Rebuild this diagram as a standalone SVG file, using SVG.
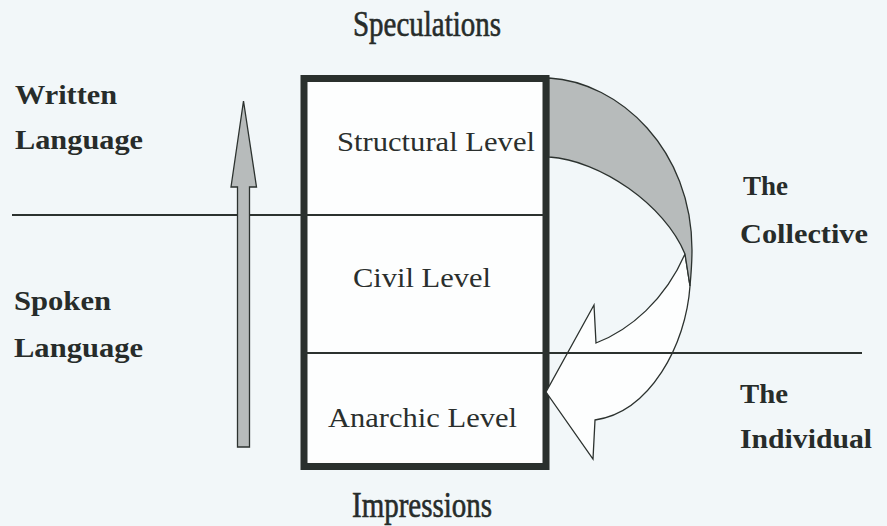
<svg xmlns="http://www.w3.org/2000/svg" width="887" height="526" viewBox="0 0 887 526">
<style>
.lbl{font-family:"Liberation Serif","Times New Roman",serif;font-weight:bold;font-size:28px;fill:#272c2a}
.lvl{font-family:"Liberation Serif","Times New Roman",serif;font-size:28px;fill:#2a2f2d}
.ttl{font-family:"Liberation Serif","Times New Roman",serif;font-size:35px;fill:#272c2a;stroke:#272c2a;stroke-width:0.6}
.rule{stroke:#2c322f;stroke-width:2;fill:none}
.arr{fill:#b7bbbb;stroke:#2c322f;stroke-width:1.3;stroke-linejoin:miter}
.warr{fill:#fdfefe;stroke:#2c322f;stroke-width:1.3}
</style>
<rect x="0" y="0" width="887" height="526" fill="#f2f7f9"/>
<g id="box">
<rect x="304" y="78.5" width="242" height="388" fill="#fdfefe" stroke="#2a302d" stroke-width="7"/>
</g>
<g id="connectors">
<line class="rule" x1="12" y1="215" x2="546" y2="215"/>
<polygon class="arr" points="237.5,447 249.5,447 249.5,187 256.5,187 243.5,101 231,187 237.5,187"/>
<path class="warr" d="M685,254 C665,300 630,330 596,343 L594,305 L546,392 L593,459 L595,420 C650,412 686,345 690,286 Z"/>
<path class="arr" d="M549,78 C620,82 692,150 692,250 C692,262 691,275 690,286 L685,254 C665,205 600,160 549,157 Z"/>
<line class="rule" x1="304" y1="353" x2="862" y2="353"/>
</g>
<g id="speculations"><text class="ttl" x="353" y="36" textLength="148" lengthAdjust="spacingAndGlyphs">Speculations</text></g>
<g id="impressions"><text class="ttl" x="352" y="517" textLength="140" lengthAdjust="spacingAndGlyphs">Impressions</text></g>
<g id="structural-level"><text class="lvl" x="337" y="151" textLength="198" lengthAdjust="spacingAndGlyphs">Structural Level</text></g>
<g id="civil-level"><text class="lvl" x="353" y="287" textLength="138" lengthAdjust="spacingAndGlyphs">Civil Level</text></g>
<g id="anarchic-level"><text class="lvl" x="328" y="427" textLength="189" lengthAdjust="spacingAndGlyphs">Anarchic Level</text></g>
<g id="written-language">
<text class="lbl" x="15" y="104" textLength="102" lengthAdjust="spacingAndGlyphs">Written</text>
<text class="lbl" x="15" y="149" textLength="128" lengthAdjust="spacingAndGlyphs">Language</text>
</g>
<g id="spoken-language">
<text class="lbl" x="14" y="310" textLength="97" lengthAdjust="spacingAndGlyphs">Spoken</text>
<text class="lbl" x="14" y="357" textLength="129" lengthAdjust="spacingAndGlyphs">Language</text>
</g>
<g id="the-collective">
<text class="lbl" x="743" y="195" textLength="45" lengthAdjust="spacingAndGlyphs">The</text>
<text class="lbl" x="740" y="243" textLength="128" lengthAdjust="spacingAndGlyphs">Collective</text>
</g>
<g id="the-individual">
<text class="lbl" x="740" y="403" textLength="48" lengthAdjust="spacingAndGlyphs">The</text>
<text class="lbl" x="740" y="448" textLength="132" lengthAdjust="spacingAndGlyphs">Individual</text>
</g>
</svg>
